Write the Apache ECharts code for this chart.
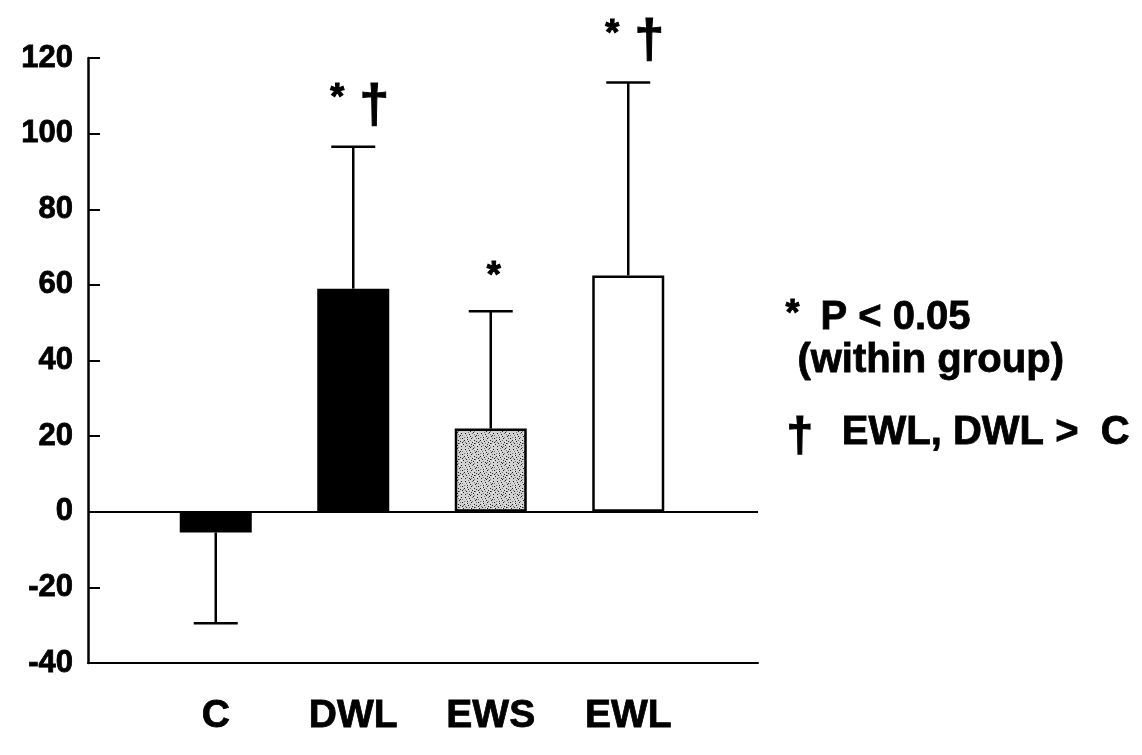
<!DOCTYPE html>
<html>
<head>
<meta charset="utf-8">
<script src="https://cdn.jsdelivr.net/npm/echarts@6/dist/echarts.min.js"></script>
<style>
html,body{margin:0;padding:0;background:#fff;}
#chart{width:1142px;height:755px;}
</style>
</head>
<body>
<div id="chart"></div>
<script>
// ---- data ----
const categories = ['C', 'DWL', 'EWS', 'EWL'];
const means = [-5.5, 59, 22, 62.5];
const errorEnds = [-29.5, 96.5, 53, 113.5];
const marks = ['', '*†', '*', '*†'];
const yMin = -40, yMax = 120, yStep = 20;
const legendLines = ['P < 0.05', '(within group)', 'EWL, DWL >  C'];

// ---- styles ----
const FONT = '"Liberation Sans", Arial, Helvetica, sans-serif';
const NARROW = '"Liberation Sans Narrow", "Arial Narrow", "Liberation Sans", Arial, sans-serif';

function stipple() {
  const c = document.createElement('canvas');
  c.width = 16; c.height = 16;
  const g = c.getContext('2d');
  g.fillStyle = '#d2d2d2';
  g.fillRect(0, 0, 16, 16);
  g.fillStyle = '#222';
  const dots = [[1,1],[5,2],[9,0],[3,5],[7,6],[11,4],[0,8],[4,9],[8,10],[10,8],[2,11],[6,4],
                [13,1],[14,6],[12,9],[15,12],[13,14],[9,13],[5,14],[1,14],[7,12],[12,3],
                [3,7],[10,11],[6,15],[14,10]];
  dots.forEach(d => g.fillRect(d[0], d[1], 1, 1));
  g.fillStyle = '#777';
  const dots2 = [[2,3],[6,8],[10,2],[0,5],[8,5],[4,0],[11,11],[5,11],[14,3],[15,9],[10,15],[3,13],
                 [8,1],[12,6],[1,10],[7,14]];
  dots2.forEach(d => g.fillRect(d[0], d[1], 1, 1));
  g.fillStyle = '#f4f4f4';
  const dots3 = [[4,4],[9,9],[13,12],[2,7],[11,1],[6,12]];
  dots3.forEach(d => g.fillRect(d[0], d[1], 1, 1));
  return c;
}
const fills = ['#000', '#000', {image: stipple(), repeat: 'repeat'}, '#fff'];

const heavy = {textBorderColor: '#000', textBorderWidth: 0.8};

const chart = echarts.init(document.getElementById('chart'), null, {renderer: 'canvas'});

function markText(x, y, t, size) {
  return {type: 'text', x: x, y: y,
    style: {text: t, font: 'bold ' + size + 'px ' + FONT, fill: '#000',
            stroke: '#000', lineWidth: 1, align: 'center', verticalAlign: 'middle'}};
}

const option = {
  backgroundColor: '#fff',
  animation: false,
  grid: [
    {left: 88, right: 384, top: 58, bottom: 92},
    {left: 147, right: 445, top: 58, bottom: 92}
  ],
  xAxis: [
    {
      type: 'value', gridIndex: 0, min: 0, max: 1,
      axisLine: {show: true, onZero: false, lineStyle: {color: '#000', width: 2}},
      axisTick: {show: false}, axisLabel: {show: false}, splitLine: {show: false}
    },
    {
      type: 'category', gridIndex: 1, data: categories,
      axisLine: {show: false}, axisTick: {show: false}, splitLine: {show: false},
      axisLabel: Object.assign({
        margin: 34, color: '#000', fontFamily: NARROW, fontWeight: 'bold', fontSize: 39
      }, heavy)
    }
  ],
  yAxis: [
    {
      type: 'value', gridIndex: 0, min: yMin, max: yMax, interval: yStep,
      axisLine: {show: true, lineStyle: {color: '#000', width: 2.5}},
      axisTick: {show: true, inside: true, length: 12, lineStyle: {color: '#000', width: 2}},
      axisLabel: Object.assign({margin: 15, color: '#000', fontFamily: FONT, fontWeight: 'bold', fontSize: 31}, heavy),
      splitLine: {show: false}
    },
    {
      type: 'value', gridIndex: 1, min: yMin, max: yMax, interval: yStep, show: false
    }
  ],
  series: [
    {
      type: 'line', xAxisIndex: 0, yAxisIndex: 0, data: [], silent: true,
      markLine: {
        silent: true, symbol: ['none', 'none'],
        label: {show: false},
        lineStyle: {color: '#000', width: 2, type: 'solid'},
        data: [{yAxis: 0}]
      }
    },
    {
      type: 'bar', xAxisIndex: 1, yAxisIndex: 1, barWidth: 72,
      data: means.map((v, i) => ({
        value: v,
        itemStyle: {color: fills[i], borderColor: '#000', borderWidth: 2.5}
      }))
    },
    {
      type: 'custom', xAxisIndex: 1, yAxisIndex: 1,
      data: categories.map((c, i) => [i, means[i], errorEnds[i]]),
      renderItem: function (params, api) {
        const i = api.value(0);
        const p0 = api.coord([i, api.value(1)]);
        const p1 = api.coord([i, api.value(2)]);
        const capHalf = 22;
        const children = [
          {type: 'line', shape: {x1: p0[0], y1: p0[1], x2: p1[0], y2: p1[1]},
           style: {stroke: '#000', lineWidth: 2.5}},
          {type: 'line', shape: {x1: p1[0] - capHalf, y1: p1[1], x2: p1[0] + capHalf, y2: p1[1]},
           style: {stroke: '#000', lineWidth: 2.5}}
        ];
        const m = marks[params.dataIndex];
        if (m === '*†') {
          children.push(markText(p1[0] - 16, p1[1] - 48, '*', 36));
          children.push(markText(p1[0] + 21, p1[1] - 40, '†', 54));
        } else if (m === '*') {
          children.push(markText(p1[0] + 3, p1[1] - 34, '*', 36));
        }
        return {type: 'group', children: children};
      }
    }
  ],
  graphic: [
    {type: 'text', left: 785, top: 297, style: {text: '*', font: 'bold 36px ' + FONT, fill: '#000', stroke: '#000', lineWidth: 0.8}},
    {type: 'text', left: 820, top: 298, style: {text: legendLines[0], font: 'bold 40px ' + FONT, fill: '#000', stroke: '#000', lineWidth: 0.8}},
    {type: 'text', left: 797, top: 341, style: {text: legendLines[1], font: 'bold 40px ' + FONT, fill: '#000', stroke: '#000', lineWidth: 0.8}},
    {type: 'text', left: 786, top: 413, style: {text: '†', font: 'bold 48px ' + FONT, fill: '#000', stroke: '#000', lineWidth: 1.2}},
    {type: 'text', right: 12, top: 413, style: {text: legendLines[2], font: 'bold 40px ' + FONT, fill: '#000', stroke: '#000', lineWidth: 0.8}}
  ]
};
chart.setOption(option);
</script>
</body>
</html>
